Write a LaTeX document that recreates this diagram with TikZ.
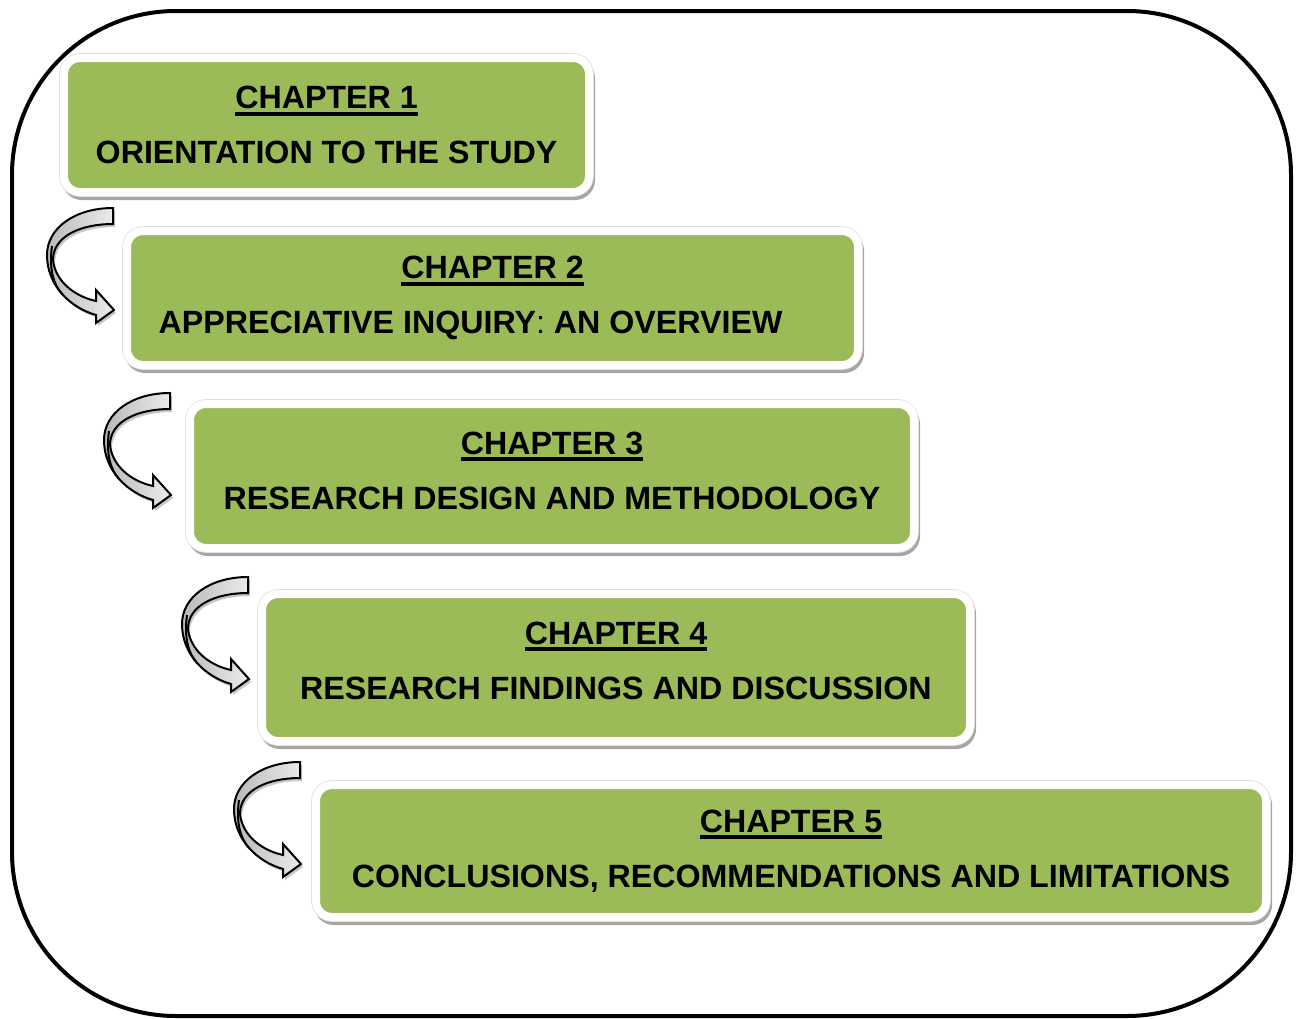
\documentclass[tikz,border=0pt]{standalone}
\usepackage{fontspec}
\setmainfont{Liberation Sans}

\definecolor{chapgreen}{HTML}{9BBB59}

% thick underline for the chapter numbers
\newcommand{\thickul}[1]{\setbox0\hbox{#1}\rlap{\rule[-3.5pt]{\wd0}{2pt}}\box0}

\begin{document}
\begin{tikzpicture}[x=0.5pt, y=-0.5pt,
    chapbox/.style={rectangle, rounded corners=8pt, fill=chapgreen, draw=white, line width=4pt,
      preaction={draw=gray!70, line width=4pt, transform canvas={xshift=1pt, yshift=-2pt}},
      preaction={draw=gray!25, line width=4.8pt},
      align=center, inner sep=0pt,
      font=\fontsize{16.1pt}{27.5pt}\selectfont\bfseries},
    turnarrow/.style={draw=black, line width=1pt, left color=gray!55, right color=gray!15,
      preaction={fill=gray!45, transform canvas={xshift=1pt, yshift=-1.5pt}}}]
  \useasboundingbox (0,0) rectangle (1301,1018);

  % outer frame
  \draw[line width=2pt, rounded corners=82pt] (12,11) rectangle (1291,1016);

  % chapters
  \node[chapbox, minimum width=262.5pt, minimum height=67pt] (1) at (326.5,125)
    {\thickul{CHAPTER 1}\\ORIENTATION TO THE STUDY};
  \node[chapbox, minimum width=365.5pt, minimum height=67pt] (2) at (492.5,298)
    {\thickul{CHAPTER 2}\\APPRECIATIVE INQUIRY{\mdseries:} AN OVERVIEW\hspace*{22pt}};
  \node[chapbox, minimum width=362pt, minimum height=72pt] (3) at (552,476)
    {\thickul{CHAPTER 3}\\RESEARCH DESIGN AND METHODOLOGY\rule[-5.5pt]{0pt}{0pt}};
  \node[chapbox, minimum width=354pt, minimum height=73.5pt] (4) at (616,667.5)
    {\thickul{CHAPTER 4}\\RESEARCH FINDINGS AND DISCUSSION\rule[-7pt]{0pt}{0pt}};
  \node[chapbox, minimum width=475pt, minimum height=66pt] (5) at (791,851)
    {\thickul{CHAPTER 5}\\CONCLUSIONS, RECOMMENDATIONS AND LIMITATIONS};

  % curved arrows between the chapters
  \foreach \ax/\ay in {113/208, 170/393, 248/577, 300/762} {
    \begin{scope}[shift={(\ax,\ay)}]
      \draw[turnarrow] (0,0) .. controls (-38,0) and (-66,20) .. (-66,47)
        .. controls (-66,78) and (-42,100) .. (-17,107)
        -- (-17,115) -- (1,102) -- (-17,82) -- (-17,93)
        .. controls (-40,88) and (-58,72) .. (-60,52)
        .. controls (-60,28) and (-32,16) .. (0,16) -- cycle;
      \draw[line width=1pt] (-61,38) .. controls (-64,60) and (-60,76) .. (-51,86);
    \end{scope}
  }
\end{tikzpicture}
\end{document}
